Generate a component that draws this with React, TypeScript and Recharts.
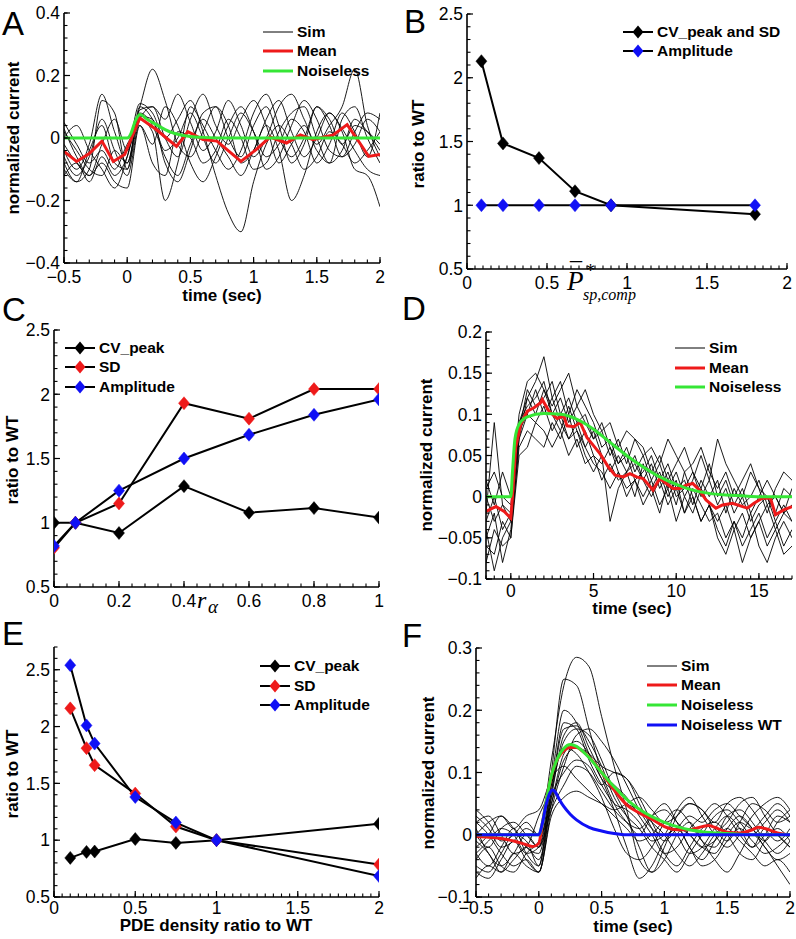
import React from "react"
import { LineChart, Line, XAxis, YAxis, Legend } from "recharts"

const FONT = '"Liberation Sans", Arial, Helvetica, sans-serif'
const MATH = '"Liberation Serif", "Times New Roman", serif'
const RED = "#ee1a1a"
const GREEN = "#36e636"
const BLUE = "#1010f5"

// ---------- panel A : noisy currents, short time ----------
const A_T = [-0.5, -0.4, -0.3, -0.2, -0.1, 0, 0.1, 0.2, 0.3, 0.4, 0.5, 0.6, 0.7, 0.8, 0.9, 1, 1.1, 1.2, 1.3, 1.4, 1.5, 1.6, 1.7, 1.8, 1.9, 2]
const A_SIM = [
    [0.03, -0.06, -0.12, -0.02, 0.06, -0.04, 0.10, 0.22, 0.12, -0.02, -0.06, 0.02, 0.10, 0.04, -0.08, -0.04, 0.06, 0.12, 0.02, -0.06, 0.00, 0.08, 0.03, -0.04, -0.10, -0.12],
    [-0.08, -0.14, -0.10, 0.12, 0.08, -0.10, 0.06, 0.02, -0.20, -0.08, 0.10, 0.04, -0.04, -0.10, -0.04, 0.08, 0.14, 0.04, -0.08, -0.02, 0.10, 0.06, -0.02, 0.04, 0.02, -0.02],
    [0.00, 0.04, -0.04, -0.10, -0.16, -0.06, 0.11, 0.08, 0.00, 0.06, 0.12, 0.02, -0.12, -0.24, -0.30, -0.14, -0.02, 0.04, -0.02, -0.10, -0.06, 0.02, -0.02, -0.08, -0.04, 0.02],
    [-0.04, -0.10, -0.02, 0.14, 0.02, -0.08, 0.09, 0.10, 0.06, 0.14, 0.05, -0.04, 0.02, 0.12, 0.04, -0.06, 0.00, 0.10, 0.14, 0.06, -0.02, 0.04, 0.10, 0.22, 0.04, -0.06],
    [-0.12, -0.08, -0.14, -0.06, -0.12, -0.06, 0.08, 0.04, -0.06, -0.12, -0.02, 0.06, 0.00, -0.06, -0.12, -0.04, 0.04, -0.04, -0.20, -0.12, 0.02, 0.08, 0.02, -0.10, -0.12, -0.22],
    [0.05, -0.02, -0.08, -0.04, -0.10, -0.02, 0.04, -0.02, 0.10, 0.04, -0.08, -0.14, -0.06, 0.04, 0.10, 0.02, -0.10, -0.06, 0.04, 0.12, 0.06, -0.04, -0.06, 0.02, 0.08, 0.06],
    [-0.06, -0.12, -0.06, 0.06, -0.04, -0.12, 0.06, 0.10, 0.00, -0.06, 0.06, 0.14, 0.04, -0.02, 0.06, 0.12, 0.04, -0.08, -0.02, 0.04, -0.04, -0.08, 0.06, 0.10, 0.00, -0.08],
    [-0.02, -0.08, -0.12, -0.08, -0.14, -0.16, 0.04, -0.08, -0.12, 0.02, 0.00, -0.08, -0.04, 0.06, 0.00, -0.10, -0.08, 0.02, 0.08, 0.10, 0.00, -0.08, -0.04, 0.06, 0.02, -0.04],
    [-0.10, -0.14, -0.04, 0.04, -0.08, -0.10, 0.10, 0.06, -0.04, 0.00, 0.08, 0.00, -0.08, 0.00, 0.08, 0.02, -0.06, -0.02, 0.06, 0.02, -0.08, -0.02, 0.08, 0.02, -0.06, 0.08],
    [0.02, -0.04, -0.10, -0.12, -0.04, -0.08, 0.07, 0.06, -0.08, -0.14, -0.04, 0.08, 0.10, 0.00, -0.06, 0.04, 0.10, 0.00, -0.06, 0.00, 0.10, 0.04, -0.06, -0.02, 0.06, 0.02],
]
const A_MEAN_T = [-0.5, -0.4, -0.3, -0.2, -0.11, -0.02, 0.1, 0.23, 0.39, 0.48, 0.6, 0.71, 0.9, 1.02, 1.13, 1.26, 1.37, 1.47, 1.63, 1.74, 1.84, 1.91, 2]
const A_MEAN_V = [-0.043, -0.075, -0.05, -0.01, -0.075, -0.053, 0.064, 0.027, -0.027, 0.02, -0.005, -0.01, -0.075, -0.037, 0.003, -0.016, 0.01, -0.005, 0.01, 0.043, -0.016, -0.059, -0.053]
const A_CLEAN_T = [-0.5, 0, 0.03, 0.06, 0.085, 0.1, 0.12, 0.15, 0.2, 0.25, 0.3, 0.35, 0.4, 0.5, 0.6, 0.8, 2]
const A_CLEAN_V = [0, 0, 0.015, 0.05, 0.07, 0.075, 0.072, 0.062, 0.05, 0.038, 0.027, 0.018, 0.012, 0.005, 0.002, 0, 0]

// ---------- panel B ----------
const B_X = [0.09, 0.225, 0.45, 0.675, 0.9, 1.8]
const B_CV_SD = [2.13, 1.485, 1.37, 1.11, 1.0, 0.93]
const B_AMP = [1, 1, 1, 1, 1, 1]

// ---------- panel C ----------
const C_X = [0, 0.066, 0.2, 0.4, 0.6, 0.8, 1]
const C_CV = [1.0, 1.0, 0.92, 1.285, 1.078, 1.114, 1.04]
const C_SD = [0.805, 1.0, 1.15, 1.93, 1.81, 2.04, 2.04]
const C_AMP = [0.82, 1.0, 1.25, 1.5, 1.685, 1.84, 1.96]

// ---------- panel D : long time ----------
const D_T = [-1.5, -1, -0.5, 0, 0.5, 1, 1.5, 2, 2.5, 3, 3.5, 4, 4.5, 5, 5.5, 6, 6.5, 7, 7.5, 8, 8.5, 9, 9.5, 10, 10.5, 11, 11.5, 12, 12.5, 13, 13.5, 14, 14.5, 15, 15.5, 16, 16.5, 17]
const D_SIM = [
    [-0.02, 0.09, -0.01, -0.03, 0.09, 0.12, 0.14, 0.17, 0.12, 0.14, 0.10, 0.13, 0.11, 0.09, 0.06, 0.07, 0.04, 0.06, 0.03, 0.05, 0.02, 0.04, 0.01, 0.03, 0.00, 0.02, 0.05, 0.02, 0.07, 0.04, 0.02, 0.00, 0.03, 0.01, -0.02, 0.01, 0.03, 0.02],
    [-0.08, -0.04, -0.06, -0.05, 0.07, 0.10, 0.13, 0.10, 0.12, 0.09, 0.07, 0.08, 0.05, 0.03, 0.05, -0.03, 0.01, 0.03, 0.00, 0.04, 0.01, -0.02, 0.02, -0.01, 0.03, 0.00, -0.03, -0.01, -0.05, -0.07, -0.04, -0.08, -0.05, -0.03, -0.06, -0.04, -0.07, -0.06],
    [0.02, -0.01, 0.03, 0.00, 0.10, 0.14, 0.15, 0.13, 0.11, 0.13, 0.15, 0.11, 0.09, 0.07, 0.08, 0.05, 0.07, 0.04, 0.07, 0.06, 0.03, 0.05, 0.02, 0.04, 0.06, 0.03, 0.01, 0.04, 0.00, 0.02, -0.01, 0.01, -0.02, 0.00, 0.02, 0.00, -0.02, 0.01],
    [-0.05, -0.02, -0.08, -0.04, 0.06, 0.08, 0.07, 0.06, 0.09, 0.07, 0.10, 0.06, 0.08, 0.05, 0.04, 0.06, 0.03, 0.01, 0.02, 0.00, 0.02, -0.01, 0.01, -0.03, 0.00, -0.02, 0.01, -0.01, -0.03, -0.01, -0.04, -0.02, -0.05, -0.03, -0.01, -0.04, -0.02, -0.03],
    [0.00, -0.03, -0.01, -0.02, 0.09, 0.11, 0.12, 0.14, 0.10, 0.12, 0.09, 0.11, 0.13, 0.10, 0.08, 0.09, 0.06, 0.08, 0.07, 0.05, 0.06, 0.04, 0.07, 0.05, 0.03, 0.04, 0.06, 0.03, 0.01, 0.03, 0.00, 0.02, 0.04, 0.01, 0.00, -0.02, 0.01, 0.00],
    [-0.06, -0.07, -0.03, -0.05, 0.05, 0.06, 0.09, 0.08, 0.06, 0.08, 0.05, 0.07, 0.04, 0.05, 0.02, 0.04, 0.02, 0.03, 0.05, 0.02, 0.00, 0.02, -0.01, 0.01, -0.02, 0.00, -0.03, -0.01, -0.04, -0.06, -0.03, -0.05, -0.02, -0.06, -0.08, -0.05, -0.03, -0.05],
    [0.01, 0.03, 0.00, -0.01, 0.08, 0.13, 0.11, 0.12, 0.14, 0.10, 0.12, 0.09, 0.10, 0.07, 0.09, 0.06, 0.04, 0.05, 0.02, 0.03, 0.05, 0.02, 0.04, 0.01, 0.02, -0.01, 0.02, 0.00, 0.02, -0.02, 0.01, -0.01, 0.00, 0.02, -0.01, 0.00, -0.02, -0.01],
    [-0.04, -0.09, -0.05, -0.03, 0.08, 0.10, 0.09, 0.11, 0.08, 0.10, 0.07, 0.09, 0.06, 0.04, 0.03, 0.01, 0.03, 0.00, 0.02, -0.01, 0.01, 0.03, 0.00, 0.02, -0.02, 0.01, -0.01, -0.03, -0.02, -0.05, -0.03, -0.06, -0.04, -0.02, -0.05, -0.03, -0.06, -0.04],
    [-0.03, 0.00, -0.04, -0.02, 0.07, 0.12, 0.10, 0.13, 0.10, 0.08, 0.11, 0.08, 0.06, 0.08, 0.05, 0.03, 0.05, 0.03, 0.04, 0.02, 0.04, 0.01, 0.03, 0.00, 0.01, 0.03, 0.00, 0.02, -0.01, 0.01, -0.02, 0.00, -0.03, -0.01, 0.00, -0.03, -0.01, -0.03],
]
const D_MEAN_T = [-1.5, -0.9, -0.4, 0, 0.1, 0.3, 0.6, 1.0, 1.4, 1.8, 1.9, 2.3, 2.8, 3.2, 3.4, 3.8, 4.2, 4.6, 5.0, 5.4, 5.9, 6.3, 6.8, 7.2, 7.6, 8.0, 8.6, 9.0, 9.4, 9.8, 10.2, 10.6, 11.0, 11.4, 11.8, 12.4, 12.8, 13.4, 14.3, 14.7, 15.2, 15.7, 16.0, 16.5, 17]
const D_MEAN_V = [-0.018, -0.012, -0.018, -0.026, 0.0, 0.06, 0.088, 0.104, 0.108, 0.114, 0.118, 0.104, 0.095, 0.098, 0.086, 0.085, 0.09, 0.072, 0.062, 0.052, 0.036, 0.026, 0.024, 0.028, 0.024, 0.022, 0.008, 0.022, 0.016, 0.01, 0.01, 0.014, 0.016, 0.008, -0.004, -0.014, -0.01, -0.008, -0.014, -0.008, -0.002, -0.002, -0.022, -0.016, -0.012]
const D_CLEAN_T = [-1.5, 0, 0.1, 0.25, 0.5, 1, 2, 3, 4, 5, 6, 7, 8, 9, 10, 11, 12, 13, 14, 15, 17]
const D_CLEAN_V = [0, 0, 0.03, 0.07, 0.088, 0.097, 0.101, 0.1, 0.094, 0.082, 0.066, 0.05, 0.036, 0.024, 0.015, 0.008, 0.004, 0.002, 0.001, 0, 0]

// ---------- panel E ----------
const E_X = [0.1, 0.2, 0.25, 0.5, 0.75, 1, 2]
const E_CV = [0.844, 0.897, 0.9, 1.01, 0.976, 1.0, 1.144]
const E_SD = [2.16, 1.81, 1.66, 1.41, 1.12, 1.0, 0.785]
const E_AMP = [2.54, 2.01, 1.85, 1.38, 1.155, 1.0, 0.685]

// ---------- panel F ----------
const F_T = [-0.5, -0.4, -0.3, -0.2, -0.1, 0, 0.1, 0.2, 0.3, 0.4, 0.5, 0.6, 0.7, 0.8, 0.9, 1, 1.1, 1.2, 1.3, 1.4, 1.5, 1.6, 1.7, 1.8, 1.9, 2]
const F_SIM = [
    [0.04, 0.02, -0.01, 0.00, 0.02, 0.00, 0.12, 0.24, 0.285, 0.27, 0.19, 0.11, 0.04, -0.04, -0.06, -0.02, 0.03, 0.05, 0.04, 0.01, -0.01, 0.02, 0.05, 0.04, 0.02, 0.03],
    [-0.03, -0.05, -0.02, 0.01, -0.03, -0.05, 0.10, 0.25, 0.24, 0.17, 0.10, 0.05, 0.02, 0.00, 0.03, 0.05, 0.02, -0.02, -0.04, -0.01, 0.03, 0.04, 0.02, -0.01, -0.03, -0.01],
    [0.02, 0.03, 0.00, -0.03, -0.02, 0.03, 0.08, 0.18, 0.17, 0.12, 0.08, 0.05, 0.04, 0.02, -0.01, 0.00, 0.04, 0.06, 0.03, 0.00, -0.02, 0.00, 0.03, 0.05, 0.06, 0.04],
    [-0.06, -0.07, -0.04, -0.01, -0.04, -0.06, 0.06, 0.16, 0.18, 0.14, 0.10, 0.08, 0.06, 0.03, 0.00, -0.03, -0.02, 0.01, 0.03, 0.05, 0.03, 0.00, -0.02, 0.01, 0.00, -0.02],
    [0.00, -0.02, 0.01, 0.02, 0.00, -0.02, 0.07, 0.15, 0.17, 0.16, 0.12, 0.07, 0.03, -0.02, -0.06, -0.04, 0.00, 0.02, -0.01, -0.04, -0.06, -0.03, 0.00, -0.02, -0.05, -0.08],
    [-0.04, -0.02, -0.05, -0.06, -0.03, -0.01, 0.05, 0.12, 0.14, 0.13, 0.11, 0.10, 0.09, 0.06, 0.02, -0.01, 0.01, 0.03, 0.02, 0.04, 0.05, 0.03, 0.01, -0.01, 0.02, 0.04],
    [0.03, 0.01, -0.02, -0.01, 0.01, 0.00, 0.09, 0.20, 0.18, 0.13, 0.09, 0.04, -0.02, -0.07, -0.05, -0.01, 0.01, -0.02, -0.05, -0.04, -0.01, 0.01, -0.01, -0.03, -0.02, 0.00],
    [-0.01, -0.03, -0.06, -0.04, -0.02, -0.04, 0.05, 0.13, 0.15, 0.13, 0.09, 0.07, 0.05, 0.04, 0.02, 0.00, -0.03, -0.05, -0.03, 0.00, 0.02, 0.05, 0.06, 0.03, 0.00, -0.02],
    [-0.02, 0.00, 0.03, 0.01, -0.02, -0.03, 0.06, 0.10, 0.12, 0.11, 0.08, 0.10, 0.09, 0.05, 0.01, -0.03, -0.05, -0.02, 0.01, 0.02, 0.00, -0.03, -0.04, -0.01, 0.01, -0.01],
    [0.01, -0.03, -0.05, -0.03, 0.00, -0.02, 0.04, 0.08, 0.11, 0.10, 0.07, 0.04, 0.02, 0.01, 0.03, 0.04, 0.02, 0.00, -0.02, -0.03, 0.00, 0.02, 0.01, 0.03, 0.05, 0.03],
    [-0.05, -0.06, -0.03, 0.00, -0.01, -0.05, 0.07, 0.17, 0.175, 0.15, 0.11, 0.06, 0.03, 0.01, -0.02, -0.04, -0.06, -0.03, 0.00, 0.03, 0.04, 0.02, 0.00, 0.02, 0.04, 0.02],
    [0.02, 0.00, -0.03, -0.05, -0.04, -0.06, 0.03, 0.06, 0.07, 0.06, 0.05, 0.04, 0.05, 0.06, 0.04, 0.02, 0.03, 0.05, 0.04, 0.02, 0.05, 0.06, 0.04, 0.01, -0.01, 0.01],
    [-0.03, -0.01, 0.01, 0.00, -0.03, -0.02, 0.08, 0.14, 0.13, 0.10, 0.06, 0.01, -0.03, -0.04, -0.02, 0.02, 0.04, 0.02, -0.01, -0.02, 0.01, 0.03, 0.01, -0.02, -0.04, -0.03],
    [0.00, 0.02, 0.03, 0.01, 0.03, 0.04, 0.09, 0.11, 0.09, 0.07, 0.05, 0.03, 0.01, -0.01, 0.00, 0.02, 0.00, -0.03, -0.02, 0.01, 0.03, 0.01, -0.02, 0.00, 0.03, 0.02],
    [-0.07, -0.05, -0.06, -0.03, -0.05, -0.06, 0.04, 0.11, 0.16, 0.17, 0.15, 0.12, 0.08, 0.04, 0.01, 0.00, 0.01, 0.00, -0.02, -0.01, 0.01, -0.01, -0.03, -0.05, -0.04, -0.06],
]
const F_MEAN_T = [-0.5, -0.4, -0.3, -0.2, -0.1, -0.05, 0, 0.03, 0.06, 0.09, 0.12, 0.15, 0.2, 0.25, 0.3, 0.35, 0.4, 0.5, 0.6, 0.7, 0.8, 0.9, 1.0, 1.1, 1.2, 1.3, 1.35, 1.4, 1.5, 1.6, 1.7, 1.75, 1.8, 1.9, 2.0]
const F_MEAN_V = [-0.003, -0.004, -0.006, -0.01, -0.016, -0.019, -0.014, 0.02, 0.055, 0.085, 0.108, 0.122, 0.135, 0.14, 0.14, 0.134, 0.125, 0.1, 0.072, 0.048, 0.035, 0.025, 0.013, 0.008, 0.008, 0.013, 0.015, 0.012, 0.004, 0.003, 0.008, 0.012, 0.01, 0.003, 0.0]
const F_CLEAN_T = [-0.5, 0, 0.03, 0.06, 0.1, 0.15, 0.2, 0.25, 0.3, 0.35, 0.4, 0.5, 0.6, 0.7, 0.8, 0.9, 1.0, 1.1, 1.2, 1.3, 1.5, 1.7, 2.0]
const F_CLEAN_V = [0, 0, 0.02, 0.055, 0.095, 0.123, 0.139, 0.145, 0.142, 0.134, 0.124, 0.1, 0.077, 0.057, 0.041, 0.029, 0.02, 0.013, 0.008, 0.005, 0.002, 0, 0]
const F_WT_T = [-0.5, 0, 0.03, 0.06, 0.09, 0.11, 0.13, 0.16, 0.2, 0.25, 0.3, 0.4, 0.5, 0.6, 0.7, 2.0]
const F_WT_V = [0, 0, 0.02, 0.05, 0.068, 0.072, 0.069, 0.058, 0.045, 0.033, 0.024, 0.012, 0.006, 0.002, 0, 0]

const zip = (ts: number[], vs: number[]) => ts.map((t, i) => ({ t, v: vs[i] }))
const steps = (a: number, b: number, s: number) => {
    const out: number[] = []
    const n = Math.round((b - a) / s)
    for (let i = 0; i <= n; i++) out.push(+(a + i * s).toFixed(6))
    return out
}
const fmt = (v: number) => (v < 0 ? "\u2212" + String(-v) : String(v))
const isIn = (list: number[], v: number) => list.some(m => Math.abs(m - v) < 1e-6)

type Rect = [number, number, number, number]
type LegendItem = { label: string; line: string; w: number; marker?: string }

function Diamond(fill: string) {
    return (p: any) => {
        const { cx, cy, index } = p
        if (cx == null || cy == null) return <g key={`d-${index}`} />
        return (
            <polygon
                key={`d-${index}`}
                points={`${cx},${cy - 6.5} ${cx + 5.5},${cy} ${cx},${cy + 6.5} ${cx - 5.5},${cy}`}
                fill={fill}
                stroke={fill}
                strokeWidth={0.5}
            />
        )
    }
}

function LegendBox({ items }: { items: LegendItem[] }) {
    return (
        <div style={{ fontFamily: FONT, fontWeight: "bold", fontSize: 15.5, color: "#000" }}>
            {items.map(it => (
                <div key={it.label} style={{ display: "flex", alignItems: "center", height: 19.7, whiteSpace: "nowrap" }}>
                    <svg width={30} height={14} style={{ marginRight: 4, flex: "none" }}>
                        <line x1={0} x2={30} y1={7} y2={7} stroke={it.line} strokeWidth={it.w} />
                        {it.marker && <polygon points="15,0.5 20.5,7 15,13.5 9.5,7" fill={it.marker} />}
                    </svg>
                    <span>{it.label}</span>
                </div>
            ))}
        </div>
    )
}

interface PanelProps {
    plot: Rect
    padRight: number
    xDomain: [number, number]
    yDomain: [number, number]
    xMajor: number[]
    yMajor: number[]
    xMinor: number
    yMinor: number
    xKey: string
    labelGap: number
    data?: any[]
    legend: LegendItem[]
    legendAt: [number, number]
    children: React.ReactNode
}

const YW = 54
const MT = 12
const XH = 30
const MINOR = 3.5
const MAJOR = 6

function Panel({ plot, padRight, xDomain, yDomain, xMajor, yMajor, xMinor, yMinor, xKey, labelGap, data, legend, legendAt, children }: PanelProps) {
    const [l, t, r, b] = plot
    const left = l - YW
    const top = t - MT
    const width = r - l + YW + padRight
    const height = b - t + MT + XH
    const axisY = MT + (b - t)
    const axisX = YW

    const xTicks = steps(xDomain[0], xDomain[1], xMinor)
    const yTicks = steps(yDomain[0], yDomain[1], yMinor)

    // MATLAB style: the axis draws short inward ticks, majors get a longer mark and a label
    const xTick = (p: any) => {
        const v = p.payload.value
        if (!isIn(xMajor, v)) return <g />
        return (
            <g>
                <path d={`M${p.x},${axisY}V${axisY - MAJOR}`} stroke="#000" strokeWidth={1.2} fill="none" />
                <text x={p.x} y={axisY + labelGap} textAnchor="middle" fontSize={17.5} fontFamily={FONT} fill="#000">
                    {fmt(v)}
                </text>
            </g>
        )
    }
    const yTick = (p: any) => {
        const v = p.payload.value
        if (!isIn(yMajor, v)) return <g />
        return (
            <g>
                <path d={`M${axisX},${p.y}H${axisX + MAJOR}`} stroke="#000" strokeWidth={1.2} fill="none" />
                <text x={axisX - 4} y={p.y} dy="0.36em" textAnchor="end" fontSize={17.5} fontFamily={FONT} fill="#000">
                    {fmt(v)}
                </text>
            </g>
        )
    }

    return (
        <div style={{ position: "absolute", left, top }}>
            <LineChart width={width} height={height} data={data} margin={{ top: MT, right: padRight, bottom: 0, left: 0 }}>
                <XAxis
                    type="number"
                    dataKey={xKey}
                    domain={xDomain}
                    allowDataOverflow
                    ticks={xTicks}
                    interval={0}
                    tick={xTick}
                    tickSize={-MINOR}
                    tickLine={{ stroke: "#000", strokeWidth: 1.1 }}
                    height={XH}
                    axisLine={{ stroke: "#000", strokeWidth: 1.6 }}
                />
                <YAxis
                    type="number"
                    domain={yDomain}
                    allowDataOverflow
                    ticks={yTicks}
                    interval={0}
                    tick={yTick}
                    tickSize={-MINOR}
                    tickLine={{ stroke: "#000", strokeWidth: 1.1 }}
                    width={YW}
                    axisLine={{ stroke: "#000", strokeWidth: 1.6 }}
                />
                <Legend
                    layout="vertical"
                    align="center"
                    verticalAlign="middle"
                    content={() => <LegendBox items={legend} />}
                    wrapperStyle={{ left: legendAt[0] - left, top: legendAt[1] - 9.85 - top, width: "auto", height: "auto" }}
                />
                {children}
            </LineChart>
        </div>
    )
}

const simLines = (ts: number[], sims: number[][], type: "monotone" | "linear") =>
    sims.map((s, i) => (
        <Line key={`sim-${i}`} data={zip(ts, s)} dataKey="v" type={type} stroke="#000" strokeWidth={0.9} dot={false} activeDot={false} isAnimationActive={false} legendType="none" />
    ))

const thick = (key: string, ts: number[], vs: number[], color: string, type: "monotone" | "linear") => (
    <Line key={key} data={zip(ts, vs)} dataKey="v" type={type} stroke={color} strokeWidth={3} dot={false} activeDot={false} isAnimationActive={false} legendType="none" />
)

const markerLine = (key: string, color: string) => (
    <Line key={key} dataKey={key} type="linear" stroke="#000" strokeWidth={2} dot={Diamond(color)} activeDot={false} isAnimationActive={false} legendType="none" />
)

const SIM_LEGEND: LegendItem[] = [
    { label: "Sim", line: "#000", w: 1 },
    { label: "Mean", line: RED, w: 3 },
    { label: "Noiseless", line: GREEN, w: 3 },
]

export default function App() {
    const bData = B_X.map((x, i) => ({ x, cvsd: B_CV_SD[i], amp: B_AMP[i] }))
    const cData = C_X.map((x, i) => ({ x, cv: C_CV[i], sd: C_SD[i], amp: C_AMP[i] }))
    const eData = E_X.map((x, i) => ({ x, cv: E_CV[i], sd: E_SD[i], amp: E_AMP[i] }))

    const txt = { fontFamily: FONT, fill: "#000" }
    const bold = { ...txt, fontWeight: "bold" as const, fontSize: 17 }

    return (
        <div style={{ position: "absolute", left: 0, top: 0, width: 796, height: 939, overflow: "hidden", background: "#fff" }}>
            {/* A */}
            <Panel plot={[64, 13, 380, 263]} padRight={12} xDomain={[-0.5, 2]} yDomain={[-0.4, 0.4]}
                xMajor={[-0.5, 0, 0.5, 1, 1.5, 2]} yMajor={[-0.4, -0.2, 0, 0.2, 0.4]} xMinor={0.1} yMinor={0.04}
                xKey="t" labelGap={19.5} legend={SIM_LEGEND} legendAt={[263, 31.7]}>
                {simLines(A_T, A_SIM, "monotone")}
                {thick("mean", A_MEAN_T, A_MEAN_V, RED, "linear")}
                {thick("clean", A_CLEAN_T, A_CLEAN_V, GREEN, "monotone")}
            </Panel>

            {/* B */}
            <Panel plot={[467, 14, 787, 269]} padRight={9} xDomain={[0, 2]} yDomain={[0.5, 2.5]}
                xMajor={[0, 0.5, 1, 1.5, 2]} yMajor={[0.5, 1, 1.5, 2, 2.5]} xMinor={0.05} yMinor={0.1}
                xKey="x" labelGap={19.5} data={bData}
                legend={[
                    { label: "CV_peak and SD", line: "#000", w: 2, marker: "#000" },
                    { label: "Amplitude", line: "#000", w: 2, marker: BLUE },
                ]} legendAt={[623, 31.7]}>
                {markerLine("cvsd", "#000")}
                {markerLine("amp", BLUE)}
            </Panel>

            {/* C */}
            <Panel plot={[54, 330, 379, 587]} padRight={12} xDomain={[0, 1]} yDomain={[0.5, 2.5]}
                xMajor={[0, 0.2, 0.4, 0.6, 0.8, 1]} yMajor={[0.5, 1, 1.5, 2, 2.5]} xMinor={0.04} yMinor={0.1}
                xKey="x" labelGap={20} data={cData}
                legend={[
                    { label: "CV_peak", line: "#000", w: 2, marker: "#000" },
                    { label: "SD", line: "#000", w: 2, marker: RED },
                    { label: "Amplitude", line: "#000", w: 2, marker: BLUE },
                ]} legendAt={[65, 347.7]}>
                {markerLine("cv", "#000")}
                {markerLine("sd", RED)}
                {markerLine("amp", BLUE)}
            </Panel>

            {/* D */}
            <Panel plot={[486, 332, 792, 579]} padRight={4} xDomain={[-1.5, 17]} yDomain={[-0.1, 0.2]}
                xMajor={[0, 5, 10, 15]} yMajor={[-0.1, -0.05, 0, 0.05, 0.1, 0.15, 0.2]} xMinor={0.5} yMinor={0.01}
                xKey="t" labelGap={17.5} legend={SIM_LEGEND} legendAt={[675, 348]}>
                {simLines(D_T, D_SIM, "linear")}
                {thick("mean", D_MEAN_T, D_MEAN_V, RED, "linear")}
                {thick("clean", D_CLEAN_T, D_CLEAN_V, GREEN, "monotone")}
            </Panel>

            {/* E */}
            <Panel plot={[54, 647, 379, 897]} padRight={12} xDomain={[0, 2]} yDomain={[0.5, 2.7]}
                xMajor={[0, 0.5, 1, 1.5, 2]} yMajor={[0.5, 1, 1.5, 2, 2.5]} xMinor={0.05} yMinor={0.1}
                xKey="x" labelGap={17} data={eData}
                legend={[
                    { label: "CV_peak", line: "#000", w: 2, marker: "#000" },
                    { label: "SD", line: "#000", w: 2, marker: RED },
                    { label: "Amplitude", line: "#000", w: 2, marker: BLUE },
                ]} legendAt={[260, 666]}>
                {markerLine("cv", "#000")}
                {markerLine("sd", RED)}
                {markerLine("amp", BLUE)}
            </Panel>

            {/* F */}
            <Panel plot={[476, 648, 790, 897]} padRight={6} xDomain={[-0.5, 2]} yDomain={[-0.1, 0.3]}
                xMajor={[-0.5, 0, 0.5, 1, 1.5, 2]} yMajor={[-0.1, 0, 0.1, 0.2, 0.3]} xMinor={0.1} yMinor={0.02}
                xKey="t" labelGap={17}
                legend={[...SIM_LEGEND, { label: "Noiseless WT", line: BLUE, w: 3 }]} legendAt={[647, 665.7]}>
                {simLines(F_T, F_SIM, "monotone")}
                {thick("mean", F_MEAN_T, F_MEAN_V, RED, "monotone")}
                {thick("clean", F_CLEAN_T, F_CLEAN_V, GREEN, "monotone")}
                {thick("wt", F_WT_T, F_WT_V, BLUE, "monotone")}
            </Panel>

            {/* panel letters and axis titles */}
            <svg width={796} height={939} style={{ position: "absolute", left: 0, top: 0, pointerEvents: "none" }}>
                <g {...txt} fontSize={33}>
                    <text x={2} y={35}>A</text>
                    <text x={404} y={33}>B</text>
                    <text x={2} y={321}>C</text>
                    <text x={402} y={320}>D</text>
                    <text x={2} y={645}>E</text>
                    <text x={402} y={647}>F</text>
                </g>
                <g {...bold} textAnchor="middle">
                    <text transform="translate(13,138) rotate(-90)" dy="0.35em">normalized current</text>
                    <text transform="translate(418,144) rotate(-90)" dy="0.35em">ratio to WT</text>
                    <text transform="translate(12,460) rotate(-90)" dy="0.35em">ratio to WT</text>
                    <text transform="translate(426,455) rotate(-90)" dy="0.35em">normalized current</text>
                    <text transform="translate(12,774) rotate(-90)" dy="0.35em">ratio to WT</text>
                    <text transform="translate(428,773) rotate(-90)" dy="0.35em">normalized current</text>
                    <text x={222} y={301}>time (sec)</text>
                    <text x={632} y={614}>time (sec)</text>
                    <text x={216} y={931}>PDE density ratio to WT</text>
                    <text x={633} y={932}>time (sec)</text>
                </g>
                <g fontFamily={MATH} fontStyle="italic" fill="#000">
                    <text x={567} y={290} fontSize={27}>
                        P
                        <tspan x={570} y={279} fontSize={24} fontStyle="normal">{"\u00af"}</tspan>
                        <tspan x={586} y={277} fontSize={18} fontStyle="normal">*</tspan>
                        <tspan x={583} y={300} fontSize={16}>sp,comp</tspan>
                    </text>
                    <text x={197} y={608} fontSize={24}>
                        r<tspan x={208} y={613} fontSize={19}>{"\u03b1"}</tspan>
                    </text>
                </g>
            </svg>
        </div>
    )
}
